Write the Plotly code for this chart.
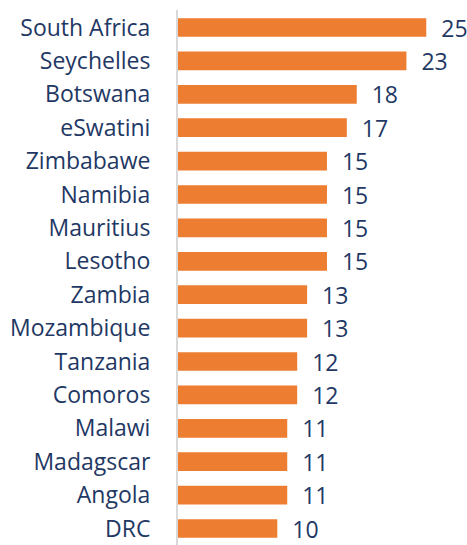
import plotly.graph_objects as go

countries = ["South Africa", "Seychelles", "Botswana", "eSwatini", "Zimbabawe", "Namibia",
             "Mauritius", "Lesotho", "Zambia", "Mozambique", "Tanzania", "Comoros",
             "Malawi", "Madagscar", "Angola", "DRC"]
values = [25, 23, 18, 17, 15, 15, 15, 15, 13, 13, 12, 12, 11, 11, 11, 10]

navy = "#1F3864"
fig = go.Figure(go.Bar(
    x=values, y=countries, orientation="h",
    marker=dict(color="#ED7D31", line=dict(width=0)),
    width=0.56,
    text=values, texttemplate="  %{x}", textposition="outside",
    textfont=dict(family="Open Sans", size=23, color=navy),
    constraintext="none",
    cliponaxis=False,
))
fig.update_layout(
    width=467, height=545,
    margin=dict(l=178, r=0, t=10, b=0, autoexpand=False),
    paper_bgcolor="white", plot_bgcolor="white",
    showlegend=False,
    font=dict(family="Open Sans", color=navy),
    xaxis=dict(range=[0, 29.1], visible=False, showgrid=False, zeroline=False, automargin=False),
    yaxis=dict(range=[15.494, -0.524], showgrid=False, zeroline=False, automargin=False,
               showline=True, linecolor="#D9D9D9", linewidth=2,
               tickfont=dict(family="Open Sans", size=23, color=navy),
               ticklabelstandoff=21, ticks=""),
)
fig.write_html("out.html",
               config={"displayModeBar": False, "staticPlot": True},
               post_script="document.body.style.margin='0';document.body.style.overflow='hidden';")
